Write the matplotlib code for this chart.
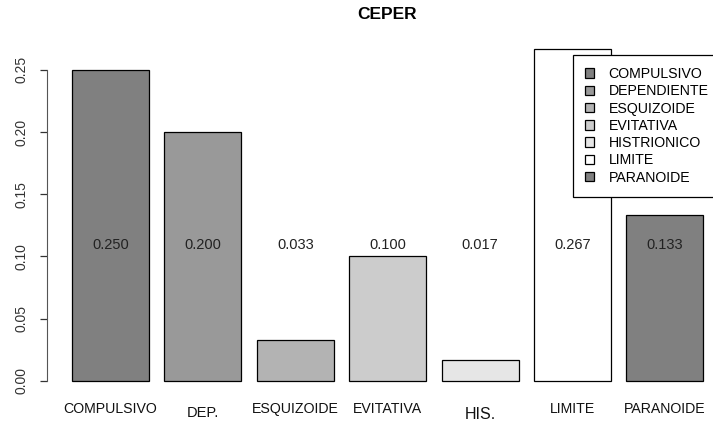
import numpy as np
import matplotlib
matplotlib.use("Agg")
import matplotlib.pyplot as plt
from matplotlib.patches import Patch
import matplotlib.transforms as mtransforms

plt.rcParams['font.family'] = ['Liberation Sans', 'DejaVu Sans']

# data
categories = ["COMPULSIVO", "DEPENDIENTE", "ESQUIZOIDE", "EVITATIVA",
              "HISTRIONICO", "LIMITE", "PARANOIDE"]
short_names = ["COMPULSIVO", "DEP.", "ESQUIZOIDE", "EVITATIVA",
               "HIS.", "LIMITE", "PARANOIDE"]
values = [0.250, 0.200, 0.033, 0.100, 0.017, 0.267, 0.133]
colors = ["#808080", "#999999", "#B3B3B3", "#CCCCCC", "#E6E6E6", "#FFFFFF", "#808080"]

W, H = 713, 423
fig = plt.figure(figsize=(W / 100, H / 100), dpi=100)

# plot region in pixels (R-style barplot)
left_px, right_px, top_px, bottom_px = 46.7, 713, 35.5, 394
ax = fig.add_axes([left_px / W, 1 - bottom_px / H,
                   (right_px - left_px) / W, (bottom_px - top_px) / H])

# bar positions like R barplot: width 1, space 0.2
x = 0.7 + 1.2 * np.arange(len(values))
ax.bar(x, values, width=1.0, color=colors, edgecolor="black", linewidth=0.9)

ymax = max(values)
ax.set_ylim(-0.04 * ymax, 1.04 * ymax)
ax.set_xlim(-0.128, -0.128 + (right_px - left_px) / 77.0)

# value labels
for xi, v in zip(x, values):
    ax.text(xi, 0.109, f"{v:.3f}", ha="center", va="center", fontsize=10.5, color="#222222")

# x labels under bars
trans = mtransforms.blended_transform_factory(ax.transData, ax.transAxes)
for xi, name in zip(x, short_names):
    if name == "DEP.":
        ax.text(xi, -(413 - bottom_px) / (bottom_px - top_px), name, transform=trans,
                ha="center", va="center", fontsize=10.5, color="#111111")
    elif name == "HIS.":
        ax.text(xi, -(414.5 - bottom_px) / (bottom_px - top_px), name, transform=trans,
                ha="center", va="center", fontsize=11.5, color="#111111")
    else:
        ax.text(xi, -(409 - bottom_px) / (bottom_px - top_px), name, transform=trans,
                ha="center", va="center", fontsize=10.2, color="#111111")

# axes styling
for s in ["top", "right", "bottom"]:
    ax.spines[s].set_visible(False)
ax.spines["left"].set_bounds(0, 0.25)
ax.spines["left"].set_color("#555555")
ax.set_xticks([])
yt = np.arange(0, 0.2501, 0.05)
ax.set_yticks(yt)
ax.set_yticklabels([f"{t:.2f}" for t in yt], rotation=90, va="center",
                   fontsize=10, color="#333333")
ax.tick_params(axis="y", length=5, width=0.9, pad=8, colors="#333333")
ax.set_facecolor("none")

# title
fig.text((left_px + 728) / 2 / W, 1 - 14.5 / H, "CEPER", ha="center", va="center",
         fontsize=12.5, fontweight="bold")

# legend
handles = [Patch(facecolor=c, edgecolor="black", linewidth=0.9) for c in colors]
leg = ax.legend(handles, categories, loc="upper left",
                bbox_to_anchor=(573 / W, 1 - 55 / H), bbox_transform=fig.transFigure,
                fontsize=10.2, frameon=True, fancybox=False, borderaxespad=0,
                handlelength=0.65, handleheight=0.65, handletextpad=1.0,
                borderpad=0.85, labelspacing=0.23)
leg.get_frame().set_edgecolor("black")
leg.get_frame().set_linewidth(0.9)
leg.get_frame().set_alpha(1)
leg.set_zorder(5)

fig.savefig("out.png", dpi=100)
